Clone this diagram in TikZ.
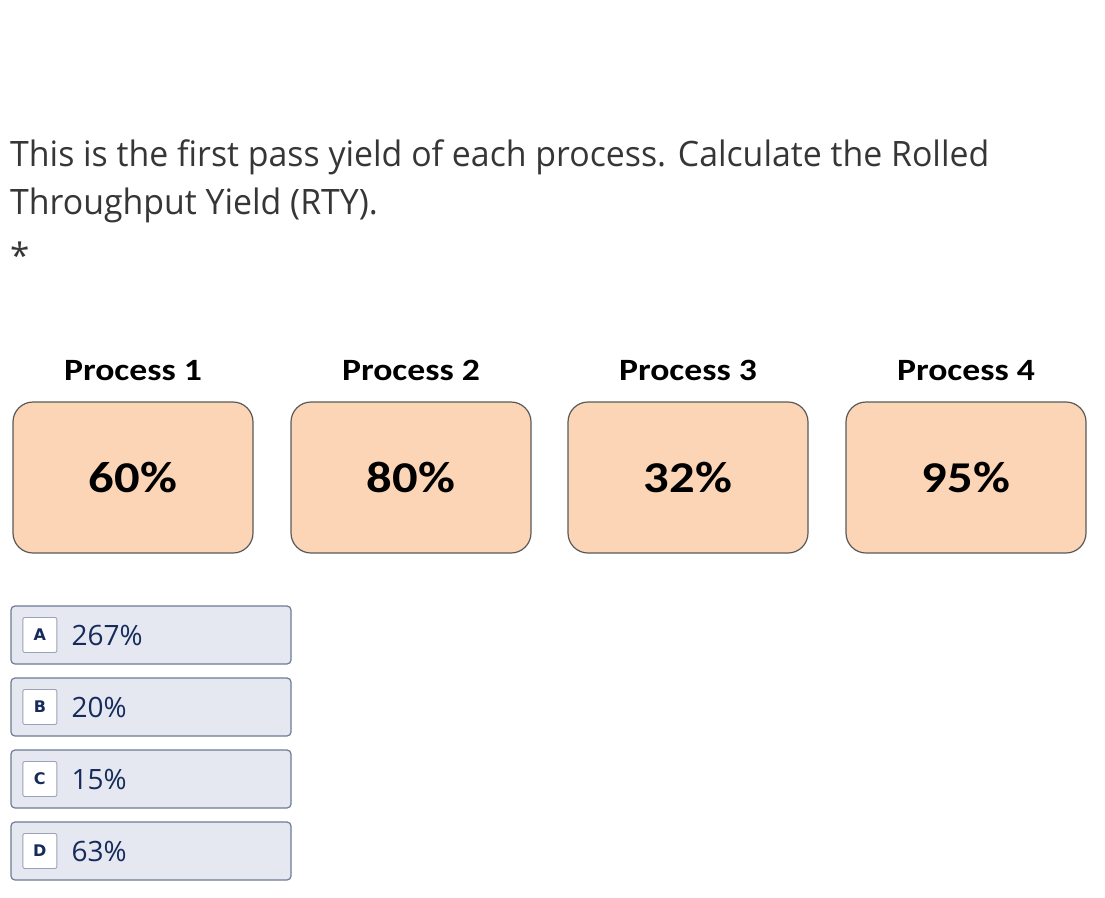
\documentclass[tikz,border=0pt]{standalone}
\usepackage{fontspec}
\setmainfont{Open Sans}
\newfontfamily\calibri{Carlito}
\newfontfamily\keyfont{DejaVu Sans}
\usetikzlibrary{positioning}

\definecolor{peach}{HTML}{FBD5B5}
\definecolor{optfill}{HTML}{E5E8F0}
\definecolor{optline}{HTML}{6E7B94}
\definecolor{keyline}{HTML}{9AA3B5}
\definecolor{navy}{HTML}{162B5B}
\definecolor{qtext}{HTML}{363636}

\newcommand{\wide}[1]{\scalebox{1.15}[1]{#1}}
\newcommand{\narrow}[1]{\scalebox{0.967}[1]{#1}}

\begin{document}
\begin{tikzpicture}[x=1pt, y=-1pt,
  question/.style={anchor=base west, inner sep=0pt, text=qtext,
    font=\fontsize{35}{42}\selectfont},
  procbox/.style={draw=black!65, line width=1.2pt, fill=peach, rounded corners=20pt,
    minimum width=240pt, minimum height=151pt, inner sep=0pt,
    font=\calibri\bfseries\fontsize{44}{50}\selectfont},
  proclabel/.style={inner sep=0pt, font=\calibri\bfseries\fontsize{31}{36}\selectfont},
  optbox/.style={draw=optline, line width=1.2pt, fill=optfill, rounded corners=4pt,
    minimum width=280pt, minimum height=58pt},
  keybox/.style={draw=keyline, line width=0.9pt, fill=white, rounded corners=2pt,
    minimum width=34pt, minimum height=35pt, inner sep=0pt, text=navy,
    font=\keyfont\bfseries\fontsize{16}{18}\selectfont},
  answer/.style={inner sep=0pt, text=navy, font=\fontsize{28}{32}\selectfont}]
\useasboundingbox (0,0) rectangle (1105,897);

% Question text
\node[question] (q1) at (10,166) {\narrow{This is the first pass yield of each process. Calculate the Rolled}};
\node[question] (q2) at (10,214) {\narrow{Throughput Yield (RTY).}};
\node[question] (star) at (10,268) {*};

% Process boxes
\node[procbox] (p1) at (133,477.5) {\wide{60\%}};
\node[procbox] (p2) at (411,477.5) {\wide{80\%}};
\node[procbox] (p3) at (688,477.5) {\wide{32\%}};
\node[procbox] (p4) at (966,477.5) {\wide{95\%}};

\node[proclabel, above=20pt of p1] (l1) {\wide{Process 1}};
\node[proclabel, above=20pt of p2] (l2) {\wide{Process 2}};
\node[proclabel, above=20pt of p3] (l3) {\wide{Process 3}};
\node[proclabel, above=20pt of p4] (l4) {\wide{Process 4}};

% Answer options
\node[optbox] (optA) at (151,635) {};
\node[keybox, right=12pt of optA.west] (keyA) {A};
\node[answer, right=14pt of keyA] (ansA) {267\%};

\node[optbox] (optB) at (151,707) {};
\node[keybox, right=12pt of optB.west] (keyB) {B};
\node[answer, right=14pt of keyB] (ansB) {20\%};

\node[optbox] (optC) at (151,779) {};
\node[keybox, right=12pt of optC.west] (keyC) {C};
\node[answer, right=14pt of keyC] (ansC) {15\%};

\node[optbox] (optD) at (151,851) {};
\node[keybox, right=12pt of optD.west] (keyD) {D};
\node[answer, right=14pt of keyD] (ansD) {63\%};
\end{tikzpicture}
\end{document}
